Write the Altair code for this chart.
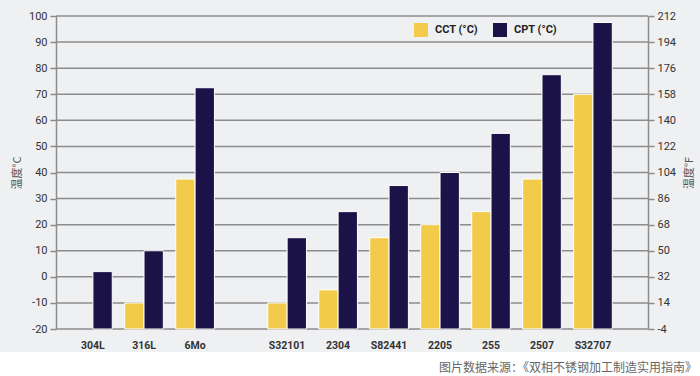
import altair as alt
import pandas as pd

# ---------------- data ----------------
left_grades = ["304L", "316L", "6Mo"]
right_grades = ["S32101", "2304", "S82441", "2205", "255", "2507", "S32707"]
grades = left_grades + right_grades
cct = [None, -10, 37.5, -10, -5, 15, 20, 25, 37.5, 70]
cpt = [2, 10, 72.5, 15, 25, 35, 40, 55, 77.5, 97.5]
series = ["CCT (°C)", "CPT (°C)"]
c_ticks = [-20, -10, 0, 10, 20, 30, 40, 50, 60, 70, 80, 90, 100]
f_ticks = [-4, 14, 32, 50, 68, 86, 104, 122, 140, 158, 176, 194, 212]
caption = "图片数据来源：《双相不锈钢加工制造实用指南》"

rows = []
for g, a, b in zip(grades, cct, cpt):
    if a is not None:
        rows.append({"grade": g, "series": series[0], "value": a})
    if b is not None:
        rows.append({"grade": g, "series": series[1], "value": b})
df = pd.DataFrame(rows)
grid_df = pd.DataFrame({"c": c_ticks})
f_df = pd.DataFrame({"f": f_ticks})

# ---------------- style ----------------
FONT_NUM = "Roboto, Liberation Sans, sans-serif"
FONT_CJK = "Noto Sans CJK SC, sans-serif"
YELLOW = "#F3CB4B"
NAVY = "#1B1248"
GRID = "#8c8c8c"
BG = "#EEF0F2"
H = 313
W1, W2 = 176, 416
YDOM = [-20, 100]
PLAIN_NUM = "toString(datum.value)"

color = alt.Color(
    "series:N",
    scale=alt.Scale(domain=series, range=[YELLOW, NAVY]),
    legend=alt.Legend(
        title=None, orient="none", legendX=358, legendY=7, direction="horizontal",
        symbolType="square", symbolSize=196, symbolStrokeWidth=0,
        labelFont=FONT_NUM, labelFontSize=11, labelFontWeight="bold",
        labelColor="#222", labelOffset=7, columnPadding=15, padding=0,
    ),
)

x_axis = alt.Axis(
    title=None, labelAngle=0, ticks=False, domain=False, grid=False,
    labelFont=FONT_NUM, labelFontSize=10.5, labelFontWeight="bold",
    labelColor="#333", labelPadding=11, zindex=1,
)

left_axis = alt.Axis(
    values=c_ticks, labelExpr=PLAIN_NUM, title="温度°C", titleFont=FONT_CJK,
    titleFontSize=11, titleFontWeight="normal", titleColor="#555", titlePadding=6,
    labelFont=FONT_NUM, labelFontSize=11, labelColor="#333", labelPadding=3,
    tickSize=6, tickColor=GRID, tickWidth=1.5, domainColor=GRID, domainWidth=1.5,
    grid=False, zindex=1,
)

right_axis = alt.Axis(
    orient="right", values=f_ticks, labelExpr=PLAIN_NUM, title="温度°F",
    titleFont=FONT_CJK, titleFontSize=11, titleFontWeight="normal", titleColor="#555",
    titleAngle=270, titleBaseline="top", titlePadding=8, labelFont=FONT_NUM,
    labelFontSize=11, labelColor="#333", labelPadding=3, tickSize=6, tickColor=GRID,
    tickWidth=1.5, domainColor=GRID, domainWidth=1.5, grid=False, zindex=1,
)


def bars(domain, pad_outer, axis):
    return alt.Chart(df[df["grade"].isin(domain)]).mark_bar(
        stroke="white", strokeWidth=1
    ).encode(
        x=alt.X("grade:N", sort=domain,
                scale=alt.Scale(domain=domain, paddingInner=0.243, paddingOuter=pad_outer),
                axis=x_axis),
        xOffset=alt.XOffset("series:N", scale=alt.Scale(domain=series)),
        y=alt.Y("value:Q", scale=alt.Scale(domain=YDOM, nice=False, zero=False), axis=axis),
        y2=alt.datum(-20),
        color=color,
    )


def grid(axis):
    return alt.Chart(grid_df).mark_rule(color=GRID, strokeWidth=1.5).encode(
        y=alt.Y("c:Q", scale=alt.Scale(domain=YDOM, nice=False, zero=False), axis=axis)
    )


background = alt.Chart(pd.DataFrame({"k": [0]})).mark_rect(color=BG).encode(
    x=alt.value(-56), x2=alt.value(644), y=alt.value(-16), y2=alt.value(336)
)

left = alt.layer(
    background, grid(left_axis), bars(left_grades, 0.344, left_axis)
).properties(width=W1, height=H)

f_layer = alt.Chart(f_df).mark_tick(opacity=0).encode(
    y=alt.Y("f:Q", scale=alt.Scale(domain=[-4, 212], nice=False, zero=False), axis=right_axis)
)

right = alt.layer(
    grid(None), bars(right_grades, 0.702, None), f_layer
).resolve_scale(y="independent").properties(width=W2, height=H)

chart = alt.hconcat(left, right, spacing=0, bounds="flush").resolve_scale(
    color="shared", x="independent"
).properties(
    title=alt.TitleParams(
        caption, orient="bottom", anchor="end", frame="bounds",
        font=FONT_CJK, fontSize=12, fontWeight="normal", color="#666",
        offset=11, dx=-3,
    ),
    padding=0,
).configure(background="white").configure_view(stroke=None)

chart.save("out.html", embed_options={"renderer": "svg", "actions": False})
